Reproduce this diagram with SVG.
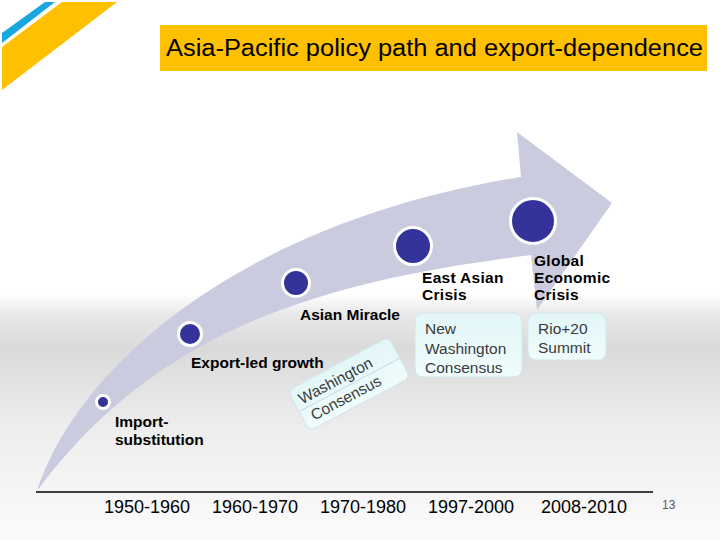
<svg xmlns="http://www.w3.org/2000/svg" width="720" height="540" viewBox="0 0 720 540">
  <defs>
    <linearGradient id="bg" x1="0" y1="0" x2="0" y2="1">
      <stop offset="0" stop-color="#ffffff"/>
      <stop offset="0.545" stop-color="#ffffff"/>
      <stop offset="0.58" stop-color="#e9e9e9"/>
      <stop offset="0.645" stop-color="#dadada"/>
      <stop offset="0.8" stop-color="#eeeeee"/>
      <stop offset="1" stop-color="#fbfbfb"/>
    </linearGradient>
    <linearGradient id="boxfill" x1="0" y1="0" x2="0" y2="1">
      <stop offset="0" stop-color="#e2f6f8"/>
      <stop offset="1" stop-color="#f0fcfc"/>
    </linearGradient>
    <style>
      .lbl { font-family: "Liberation Sans", Arial, sans-serif; font-size: 15.5px; font-weight: bold; fill: #000; }
      .box { fill: url(#boxfill); stroke: #d2e6ea; stroke-width: 1; }
      .boxtxt { font-family: "Liberation Sans", Arial, sans-serif; font-size: 15.5px; fill: #3a3a3a; }
      .year { font-family: "Liberation Sans", Arial, sans-serif; font-size: 18px; fill: #000; }
      .ring { fill: #333399; stroke: #ffffff; stroke-width: 3; }
    </style>
  </defs>

  <rect x="0" y="0" width="720" height="540" fill="url(#bg)"/>

  <!-- top-left decoration -->
  <g id="decoration">
    <polygon points="2,33 45,2 55,2 2,43" fill="#1aa7e0"/>
    <polygon points="2,47 62,2 117,2 2,90" fill="#ffc000"/>
  </g>

  <!-- title -->
  <g id="title">
    <rect x="160" y="25" width="547" height="46" fill="#ffc000"/>
    <text x="166" y="56" font-family="'Liberation Sans', Arial, sans-serif" font-size="23" fill="#000" textLength="537" lengthAdjust="spacingAndGlyphs">Asia-Pacific policy path and export-dependence</text>
  </g>

  <!-- curved arrow -->
  <g id="arrow">
    <path d="M37,491 C80,360 250,220 521,177 L517,132 L612,203 L537,310 L531,255 C330,280 158,326 37,491 Z" fill="#cbcbdf"/>
  </g>

  <!-- milestones -->
  <g id="node-import">
    <circle class="ring" cx="103" cy="402" r="6.5"/>
    <text class="lbl" x="115" y="427">Import-</text>
    <text class="lbl" x="115" y="445">substitution</text>
  </g>
  <g id="node-export">
    <circle class="ring" cx="190" cy="334" r="11.5"/>
    <text class="lbl" x="191" y="368">Export-led growth</text>
  </g>
  <g id="node-miracle">
    <circle class="ring" cx="296" cy="283" r="13.5"/>
    <text class="lbl" x="300" y="320">Asian Miracle</text>
  </g>
  <g id="node-eastasian">
    <circle class="ring" cx="413" cy="246" r="18.5"/>
    <text class="lbl" x="422" y="283" letter-spacing="0.3">East Asian</text>
    <text class="lbl" x="422" y="300" letter-spacing="0.3">Crisis</text>
  </g>
  <g id="node-global">
    <circle class="ring" cx="533" cy="221" r="22.5"/>
    <text class="lbl" x="534" y="266" letter-spacing="0.3">Global</text>
    <text class="lbl" x="534" y="283" letter-spacing="0.3">Economic</text>
    <text class="lbl" x="534" y="300" letter-spacing="0.3">Crisis</text>
  </g>

  <!-- policy boxes -->
  <g id="box-washington" transform="translate(349,384) rotate(-28)">
    <rect class="box" x="-57" y="-23" width="114" height="46" rx="6"/>
    <line x1="-57" y1="1" x2="57" y2="1" stroke="#c6d8dc" stroke-width="1"/>
    <text class="boxtxt" x="-51" y="-4" font-size="16">Washington</text>
    <text class="boxtxt" x="-48" y="16" font-size="16">Consensus</text>
  </g>
  <g id="box-newwashington">
    <rect class="box" x="415" y="313" width="107" height="64" rx="8"/>
    <text class="boxtxt" x="425" y="334">New</text>
    <text class="boxtxt" x="425" y="353.5">Washington</text>
    <text class="boxtxt" x="425" y="373">Consensus</text>
  </g>
  <g id="box-rio">
    <rect class="box" x="528" y="313" width="78" height="47" rx="8"/>
    <text class="boxtxt" x="538" y="333.5">Rio+20</text>
    <text class="boxtxt" x="538" y="352.5">Summit</text>
  </g>

  <!-- timeline -->
  <g id="connectors">
    <line x1="36" y1="492" x2="653" y2="492" stroke="#000" stroke-width="1.5"/>
  </g>
  <g id="years">
    <text class="year" x="104" y="513">1950-1960</text>
    <text class="year" x="212" y="513">1960-1970</text>
    <text class="year" x="320" y="513">1970-1980</text>
    <text class="year" x="428" y="513">1997-2000</text>
    <text class="year" x="541" y="513">2008-2010</text>
  </g>
  <text x="662" y="509" font-family="'Liberation Sans', Arial, sans-serif" font-size="12" fill="#595959">13</text>
</svg>
